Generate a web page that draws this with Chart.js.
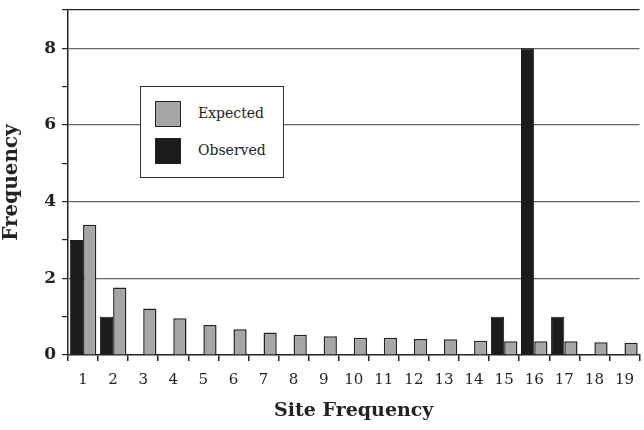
<!DOCTYPE html>
<html>
<head>
<meta charset="utf-8">
<script src="https://cdn.jsdelivr.net/npm/chart.js@4"></script>
<style>
  html, body { margin: 0; padding: 0; background: #fff; overflow: hidden; }
  #wrap { position: relative; width: 644px; height: 430px; }
  #legend {
    position: absolute; left: 140px; top: 86px; width: 142px; height: 90px;
    border: 1.5px solid #333; background: #fff;
    font-family: "DejaVu Serif", serif; font-size: 14px; color: #222;
  }
  .item { position: absolute; left: 14px; height: 26px; line-height: 26px; }
  .sw { display: inline-block; width: 24px; height: 24px; border: 1px solid #222; vertical-align: middle; margin-right: 17px; }
</style>
</head>
<body>
<div id="wrap">
  <canvas id="chart" width="644" height="430"></canvas>
  <div id="legend">
    <div class="item" style="top:13px"><span class="sw" style="background:#a6a6a6"></span>Expected</div>
    <div class="item" style="top:50px"><span class="sw" style="background:#1c1c1c"></span>Observed</div>
  </div>
</div>
<script>
// Daten
var siteFreq = ["1", "2", "3", "4", "5", "6", "7", "8", "9", "10", "11", "12", "13", "14", "15", "16", "17", "18", "19"];
var observed = [3, 1, 0, 0, 0, 0, 0, 0, 0, 0, 0, 0, 0, 0, 1, 8, 1, 0, 0];
var expected = [3.4, 1.76, 1.21, 0.96, 0.78, 0.67, 0.59, 0.53, 0.49, 0.45, 0.45, 0.42, 0.41, 0.37, 0.36, 0.36, 0.36, 0.33, 0.32];

var serif = "'DejaVu Serif', serif";

new Chart("chart", {
    type: "bar",
    data: {
        labels: siteFreq,
        datasets: [{
            label: "Observed",
            data: observed,
            backgroundColor: "#1c1c1c",
            borderColor: "#1c1c1c",
            borderWidth: 1
        }, {
            label: "Expected",
            data: expected,
            backgroundColor: "#a6a6a6",
            borderColor: "#222",
            borderWidth: 1.5
        }]
    },
    options: {
        responsive: false,
        animation: false,
        layout: { padding: { top: 10, right: 0, bottom: 0, left: 0 } },
        plugins: {
            legend: { display: false },
            tooltip: { enabled: false }
        },
        datasets: {
            bar: { categoryPercentage: 0.88, barPercentage: 1 }
        },
        scales: {
            x: {
                afterFit: function(s) { s.height = 75; },
                border: { color: "#222", width: 1.5 },
                grid: { drawOnChartArea: false, tickLength: 6, color: "#222", lineWidth: 1.5 },
                ticks: { color: "#222", padding: 10, font: { family: serif, size: 15 } },
                title: { display: true, text: "Site Frequency", color: "#222", padding: { top: 0, bottom: 8 },
                    font: { family: serif, size: 19, weight: "bold" } }
            },
            y: {
                min: 0, max: 9,
                afterFit: function(s) { s.width = 68; s.paddingTop = 0; s.paddingBottom = 0; },
                border: { color: "#222", width: 1.5 },
                grid: {
                    tickLength: 6,
                    lineWidth: 1.2,
                    color: function(c) {
                        var v = c.tick.value;
                        if (v === 9) return "#222";
                        if (v > 0 && v % 2 === 0) return "#666";
                        return "rgba(0,0,0,0)";
                    },
                    tickColor: "#222"
                },
                ticks: {
                    stepSize: 1, padding: 6, color: "#222",
                    font: { family: serif, size: 17, weight: "bold" },
                    callback: function(v) { return (v % 2 === 0 && v < 9) ? v : ""; }
                },
                title: { display: true, text: "Frequency", color: "#222", padding: { top: 0, bottom: 3 },
                    font: { family: serif, size: 20, weight: "bold" } }
            }
        }
    }
});
</script>
</body>
</html>
